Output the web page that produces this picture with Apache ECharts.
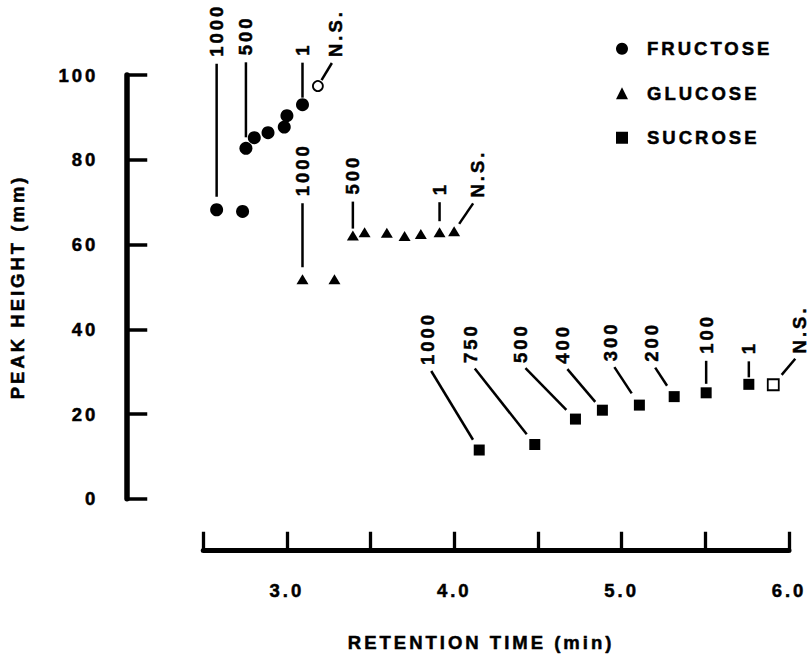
<!DOCTYPE html>
<html>
<head>
<meta charset="utf-8">
<script src="https://cdn.jsdelivr.net/npm/echarts@6/dist/echarts.min.js"></script>
<style>
  html, body { margin: 0; padding: 0; background: #fff; }
  #chart { width: 811px; height: 657px; }
  #chart svg text { letter-spacing: 3px; }
</style>
</head>
<body>
<div id="chart"></div>
<script>
// ---------------- data ----------------
const fructoseTime   = [2.58, 2.735, 2.755, 2.805, 2.887, 2.984, 3.0, 3.093, 3.185];
const fructoseHeight = [68.2, 67.8, 82.7, 85.2, 86.4, 87.7, 90.4, 93.0, 97.4];
const fructoseDose   = ['1000', '', '500', '', '', '', '', '1', 'N.S.'];

const glucoseTime    = [3.093, 3.284, 3.394, 3.464, 3.597, 3.703, 3.800, 3.912, 3.999];
const glucoseHeight  = [51.8, 51.8, 62.1, 62.9, 62.8, 62.0, 62.5, 62.9, 63.1];
const glucoseDose    = ['1000', '', '500', '', '', '', '', '1', 'N.S.'];

const sucroseTime    = [4.149, 4.481, 4.724, 4.885, 5.106, 5.314, 5.505, 5.760, 5.906];
const sucroseHeight  = [11.5, 12.8, 18.8, 20.9, 22.1, 24.1, 25.0, 27.0, 26.9];
const sucroseDose    = ['1000', '750', '500', '400', '300', '200', '100', '1', 'N.S.'];

const xLabeledTicks  = [3, 4, 5, 6];
const xTickLabels    = ['3.0', '4.0', '5.0', '6.0'];
const yTickLabels    = ['0', '20', '40', '60', '80', '100'];

const seriesNames    = ['FRUCTOSE', 'GLUCOSE', 'SUCROSE'];
const xTitle         = 'RETENTION TIME (min)';
const yTitle         = 'PEAK HEIGHT (mm)';

// ---------------- layout / style ----------------
// leader line far-end offsets (px) relative to each marked point, plus gap from the point
const fructoseLeaders = [[0,-146,13], null, [0,-86,11], null, null, null, null, [0,-42,7], [14,-23,7]];
const glucoseLeaders  = [[0,-76,12], null, [0,-34,7], null, null, null, null, [0,-30,11], [19,-28,9]];
const sucroseLeaders  = [[-48,-79,12], [-60,-76,13], [-50,-51,13], [-35,-41,11], [-25,-38,14],
                         [-19,-29,13], [0,-32,9], [0,-23,7], [22,-26,13]];

const FONT = '"Liberation Sans", Arial, Helvetica, sans-serif';
const FS = 18.5;
const txt = { color: '#000', fontFamily: FONT, fontWeight: 'bold', fontSize: FS,
              textBorderColor: '#000', textBorderWidth: 0.5 };

function markerSeries(name, symbol, size, hollowSize, time, height, dose, hollowDose) {
  const data = time.map((t, i) => {
    const item = { value: [t, height[i]] };
    if (hollowDose && dose[i] === hollowDose) {
      item.itemStyle = { color: '#fff', borderColor: '#000', borderWidth: 1.8, opacity: 1 };
      item.symbolSize = hollowSize;
    }
    return item;
  });
  return {
    type: 'scatter', name, symbol, symbolSize: size,
    itemStyle: { color: '#000', opacity: 1 },
    data, z: 4, silent: true
  };
}

function annotationSeries(name, time, height, dose, leaders) {
  return {
    type: 'custom', name: name + ' doses', coordinateSystem: 'cartesian2d',
    silent: true, z: 5, clip: false,
    encode: { x: 0, y: 1 },
    data: time.map((t, i) => [t, height[i], i]),
    renderItem(params, api) {
      const i = api.value(2);
      const lead = leaders[i];
      if (!lead || !dose[i]) return null;
      const p = api.coord([api.value(0), api.value(1)]);
      const dx = lead[0], dy = lead[1], gap = lead[2];
      const len = Math.hypot(dx, dy), ux = dx / len, uy = dy / len;
      const x1 = p[0] + ux * gap, y1 = p[1] + uy * gap;
      const x2 = p[0] + dx, y2 = p[1] + dy;
      return {
        type: 'group',
        children: [
          { type: 'line', shape: { x1, y1, x2, y2 },
            style: { stroke: '#000', lineWidth: 2.5 } },
          { type: 'text', x: x2 + ux * 7, y: y2 + uy * 7, rotation: Math.PI / 2,
            style: { text: dose[i], x: 0, y: 0, align: 'left', verticalAlign: 'middle',
                     fill: '#000', stroke: '#000', lineWidth: 0.5,
                     fontFamily: FONT, fontWeight: 'bold', fontSize: FS } }
        ]
      };
    }
  };
}

const chart = echarts.init(document.getElementById('chart'), null, { renderer: 'svg' });

chart.setOption({
  animation: false,
  backgroundColor: '#fff',
  grid: { left: 203, right: 22, top: 75, bottom: 155, containLabel: false },
  legend: {
    data: seriesNames,
    orient: 'vertical', left: 611, top: 34,
    itemWidth: 12, itemHeight: 12, itemGap: 25, selectedMode: false,
    itemStyle: { opacity: 1 },
    textStyle: Object.assign({}, txt, { padding: [0, 0, 0, 14] })
  },
  xAxis: {
    type: 'value', min: 2.5, max: 6.0, interval: 0.5,
    position: 'bottom', offset: 51,
    name: xTitle, nameLocation: 'middle', nameGap: 83,
    nameTextStyle: Object.assign({}, txt, { padding: [0, 30, 0, 0] }),
    axisLine: { show: true, onZero: false, lineStyle: { color: '#000', width: 5 } },
    axisTick: { show: true, inside: true, length: 18, lineStyle: { color: '#000', width: 3.3 } },
    axisLabel: Object.assign({}, txt, {
      margin: 31,
      formatter: v => {
        const k = xLabeledTicks.findIndex(t => Math.abs(t - v) < 1e-9);
        return k >= 0 ? xTickLabels[k] : '';
      }
    }),
    splitLine: { show: false }
  },
  yAxis: {
    type: 'value', min: 0, max: 100, interval: 20,
    position: 'left', offset: 77,
    name: yTitle, nameLocation: 'middle', nameGap: 99,
    nameTextStyle: Object.assign({}, txt),
    axisLine: { show: true, onZero: false, lineStyle: { color: '#000', width: 5.5 } },
    axisTick: { show: true, inside: true, length: 21, lineStyle: { color: '#000', width: 3.5 } },
    axisLabel: Object.assign({}, txt, {
      margin: 28,
      formatter: v => yTickLabels[Math.round(v / 20)]
    }),
    splitLine: { show: false }
  },
  series: [
    markerSeries(seriesNames[0], 'circle', 13, 10, fructoseTime, fructoseHeight, fructoseDose, 'N.S.'),
    markerSeries(seriesNames[1], 'triangle', [12, 10], 10, glucoseTime, glucoseHeight, glucoseDose, null),
    markerSeries(seriesNames[2], 'rect', 11, 11, sucroseTime, sucroseHeight, sucroseDose, 'N.S.'),
    annotationSeries(seriesNames[0], fructoseTime, fructoseHeight, fructoseDose, fructoseLeaders),
    annotationSeries(seriesNames[1], glucoseTime, glucoseHeight, glucoseDose, glucoseLeaders),
    annotationSeries(seriesNames[2], sucroseTime, sucroseHeight, sucroseDose, sucroseLeaders)
  ]
});
</script>
</body>
</html>
